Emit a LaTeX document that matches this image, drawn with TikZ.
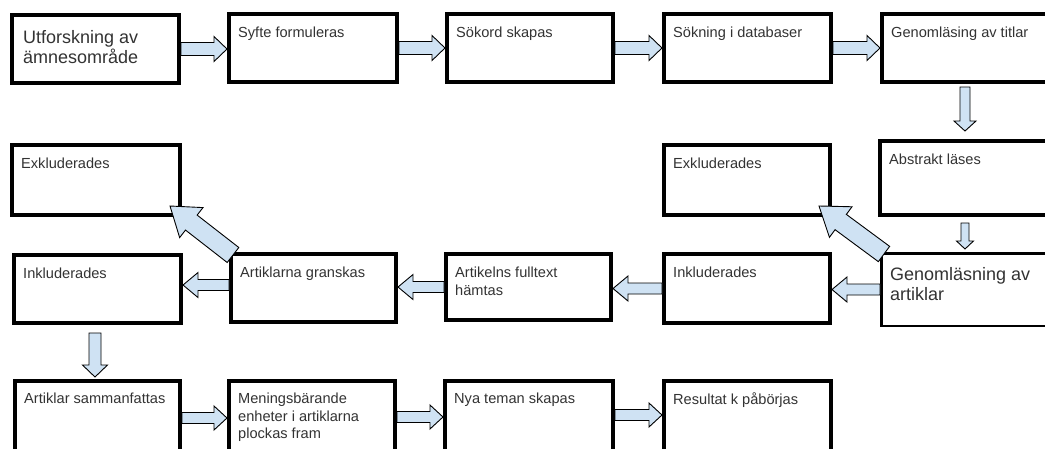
\documentclass[tikz,border=0pt]{standalone}
\usepackage{fontspec}
\setmainfont{Liberation Sans}
\usetikzlibrary{calc}
\definecolor{arrfill}{HTML}{CFE2F3}
\definecolor{txt}{HTML}{333333}
\newcommand{\blockarr}[5]{%
  \coordinate (BAh) at ($(#2)!#5pt!(#1)$);
  \draw[arrsty] ($(#1)!#3pt!90:(#2)$) -- ($(BAh)!#3pt!90:(#2)$) -- ($(BAh)!#4pt!90:(#2)$) -- (#2)
    -- ($(BAh)!#4pt!-90:(#2)$) -- ($(BAh)!#3pt!-90:(#2)$) -- ($(#1)!#3pt!-90:(#2)$) -- cycle;
}
\tikzset{
  box/.style={draw=black, line width=4pt, outer sep=2pt, rectangle, anchor=north west, inner sep=0pt, fill=white},
  thinbox/.style={box, line width=2.5pt, outer sep=1.25pt},
  lbl/.style={anchor=north west, inner sep=0pt, font=\fontsize{14.6}{17.5}\selectfont, text=txt, align=left},
  big/.style={anchor=north west, inner sep=0pt, font=\fontsize{18}{20}\selectfont, text=txt, align=left},
  arrsty/.style={draw=black, line width=0.9pt, fill=arrfill, line join=miter},
}
\begin{document}
\begin{tikzpicture}[x=1pt,y=-1pt]
\useasboundingbox (0,0) rectangle (1045,448);
\clip (0,0) rectangle (1045,448);
\fill[white] (0,0) rectangle (1045,448);
% row 1
\node[box, minimum width=167pt, minimum height=68pt] (b1) at (10,13) {};
\node[box, minimum width=168pt, minimum height=68pt] (b2) at (227,12) {};
\node[box, minimum width=166pt, minimum height=68pt] (b3) at (445,12) {};
\node[box, minimum width=167pt, minimum height=68pt] (b4) at (662,12) {};
\node[box, minimum width=176pt, minimum height=68pt] (b5) at (880,12) {};
% row 2
\node[box, minimum width=168pt, minimum height=70pt] (exL) at (10,143) {};
\node[box, minimum width=166pt, minimum height=70pt] (exR) at (662,143) {};
\node[box, minimum width=176pt, minimum height=74pt] (abs) at (878,139) {};
% row 3
\node[box, minimum width=167pt, minimum height=68pt] (inL) at (12,253) {};
\node[box, minimum width=165pt, minimum height=68pt] (gr) at (229,252) {};
\node[box, minimum width=165pt, minimum height=66pt] (ft) at (444,252) {};
\node[box, minimum width=166pt, minimum height=69pt] (inR) at (662,252) {};
\node[thinbox, minimum width=177.5pt, minimum height=72.5pt] (gen) at (880,252) {};
% row 4
\node[box, minimum width=165pt, minimum height=100pt] (s1) at (13,379) {};
\node[box, minimum width=166pt, minimum height=100pt] (s2) at (227,379) {};
\node[box, minimum width=168pt, minimum height=100pt] (s3) at (443,379) {};
\node[box, minimum width=167pt, minimum height=100pt] (s4) at (662,379) {};
% labels
\node[big] at ($(b1.north west)+(13,17)$) {Utforskning av\\ämnesområde};
\node[lbl] at ($(b2.north west)+(11,15)$) {Syfte formuleras};
\node[lbl] at ($(b3.north west)+(11,15)$) {Sökord skapas};
\node[lbl] at ($(b4.north west)+(11,15)$) {Sökning i databaser};
\node[lbl] at ($(b5.north west)+(11,15)$) {Genomläsing av titlar};
\node[lbl] at ($(exL.north west)+(11,15)$) {Exkluderades};
\node[lbl] at ($(exR.north west)+(11,15)$) {Exkluderades};
\node[lbl] at ($(abs.north west)+(11,15)$) {Abstrakt läses};
\node[lbl] at ($(inL.north west)+(11,15)$) {Inkluderades};
\node[lbl] at ($(gr.north west)+(11,15)$) {Artiklarna granskas};
\node[lbl] at ($(ft.north west)+(11,15)$) {Artikelns fulltext\\hämtas};
\node[lbl] at ($(inR.north west)+(11,15)$) {Inkluderades};
\node[big] at ($(gen.north west)+(10,15)$) {Genomläsning av\\artiklar};
\node[lbl] at ($(s1.north west)+(11,14)$) {Artiklar sammanfattas};
\node[lbl] at ($(s2.north west)+(11,14)$) {Meningsbärande\\enheter i artiklarna\\plockas fram};
\node[lbl] at ($(s3.north west)+(11,14)$) {Nya teman skapas};
\node[lbl] at ($(s4.north west)+(11,14)$) {Resultat k påbörjas};
% connector end points
\coordinate (t1) at (b1.east); \coordinate (p1) at (b1.east -| b2.west);
\coordinate (t2) at (b2.east); \coordinate (p2) at (b2.east -| b3.west);
\coordinate (t3) at (b3.east); \coordinate (p3) at (b3.east -| b4.west);
\coordinate (t4) at (b4.east); \coordinate (p4) at (b4.east -| b5.west);
\coordinate (tv1) at ($(b5.south west)+(85,3)$); \coordinate (pv1) at ($(tv1 |- abs.north)+(0,-8)$);
\coordinate (tv2) at ($(abs.south west)+(87,6)$); \coordinate (pv2) at ($(tv2 |- gen.north)+(0,-3)$);
\coordinate (tm1) at (gen.west); \coordinate (pm1) at (gen.west -| inR.east);
\coordinate (tm2) at (inR.west); \coordinate (pm2) at (inR.west -| ft.east);
\coordinate (tm3) at (ft.west); \coordinate (pm3) at (ft.west -| gr.east);
\coordinate (tm4) at ($(gr.west)+(0,-3)$); \coordinate (pm4) at (tm4 -| inL.east);
\coordinate (td) at ($(inL.south west)+(83,8)$); \coordinate (pd) at ($(td |- s1.north)+(0,-2)$);
\coordinate (tb1) at ($(s1.north east)+(0,39)$); \coordinate (pb1) at (tb1 -| s2.west);
\coordinate (tb2) at ($(s2.north east)+(0,38)$); \coordinate (pb2) at (tb2 -| s3.west);
\coordinate (tb3) at ($(s3.north east)+(0,36)$); \coordinate (pb3) at (tb3 -| s4.west);
\coordinate (tdR) at ($(gen.north west)+(4,2)$); \coordinate (pdR) at ($(exR.south east)+(-13,-11)$);
\coordinate (tdL) at ($(gr.north west)+(4,3)$); \coordinate (pdL) at ($(exL.south east)+(-12,-11)$);
% connectors
\blockarr{t1}{p1}{6.5}{12.5}{13}
\blockarr{t2}{p2}{6.5}{12.5}{13}
\blockarr{t3}{p3}{6.5}{12.5}{13}
\blockarr{t4}{p4}{6.5}{12.5}{13}
\blockarr{tv1}{pv1}{5}{11}{10}
\blockarr{tv2}{pv2}{4}{8.5}{8}
\blockarr{tm1}{pm1}{5.5}{12.5}{15}
\blockarr{tm2}{pm2}{5.5}{12.5}{15}
\blockarr{tm3}{pm3}{5.5}{12.5}{15}
\blockarr{tm4}{pm4}{5.5}{12.5}{15}
\blockarr{td}{pd}{6}{12.5}{12}
\blockarr{tb1}{pb1}{5.5}{12}{13}
\blockarr{tb2}{pb2}{5.5}{12}{13}
\blockarr{tb3}{pb3}{5.5}{12}{13}
\blockarr{tdR}{pdR}{9.5}{19}{27}
\blockarr{tdL}{pdL}{9.5}{19}{27}
\end{tikzpicture}
\end{document}
